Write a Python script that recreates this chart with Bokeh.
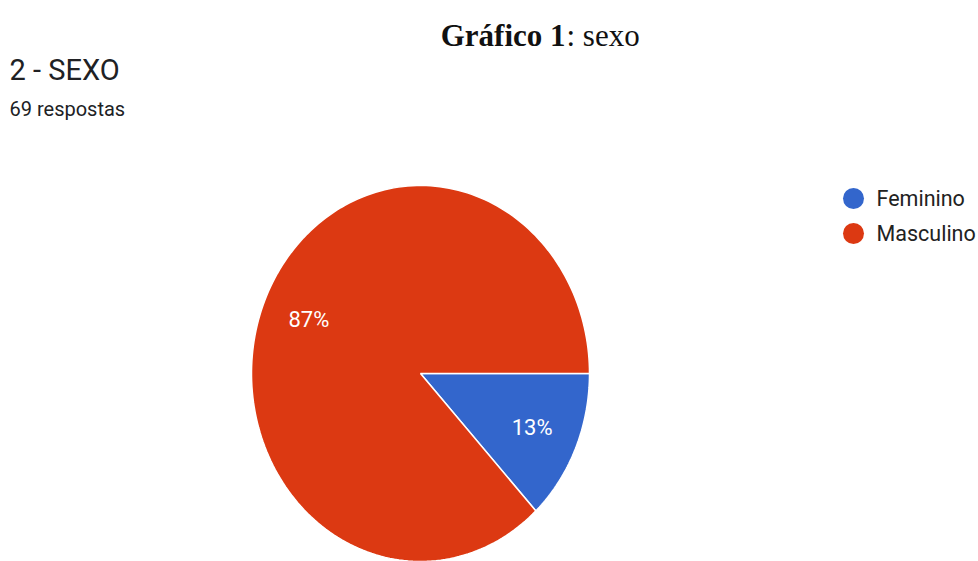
import numpy as np
from bokeh.plotting import figure
from bokeh.models import Range1d, ColumnDataSource
from bokeh.core.properties import value
from bokeh.embed import file_html
from bokeh.resources import INLINE

# ---- data ----
categories = ["Feminino", "Masculino"]
counts = [9, 60]
colors = ["#3366cc", "#dc3912"]
pct_labels = ["13%", "87%"]
title_bold = "Gráfico 1"
title_rest = ": sexo"
question = "2 - SEXO"
responses = "69 respostas"

W, H = 978, 561
p = figure(width=W, height=H, output_backend="svg", toolbar_location=None,
           x_range=Range1d(0, W), y_range=Range1d(H, 0), min_border=0)
p.axis.visible = False
p.grid.visible = False
p.outline_line_color = None
p.background_fill_color = "white"
p.border_fill_color = "white"

# pie geometry (ellipse as in reference)
cx, cy, rx, ry = 420, 373, 169, 188
vals = np.array(counts, dtype=float)
fr = vals / vals.sum()
ends = np.cumsum(fr) * 2 * np.pi
starts = ends - fr * 2 * np.pi

xs, ys, lx, ly = [], [], [], []
for a0, a1 in zip(starts, ends):
    t = np.linspace(a0, a1, 200)
    xs.append(list(np.concatenate([[cx], cx + rx * np.cos(t)])))
    ys.append(list(np.concatenate([[cy], cy + ry * np.sin(t)])))
    m = (a0 + a1) / 2
    lx.append(cx + 0.72 * rx * np.cos(m))
    ly.append(cy + 0.72 * ry * np.sin(m))

src = ColumnDataSource(dict(xs=xs, ys=ys, color=colors, lx=lx, ly=ly, lab=pct_labels))
p.patches("xs", "ys", source=src, fill_color="color", line_color="white", line_width=1.5)
p.text("lx", "ly", text="lab", source=src, text_color="#ffffff", text_font=value("Roboto"),
       text_font_size="22px", text_align="center", text_baseline="middle")

# titles
p.text([565], [35], text=[title_bold], text_font=value("Liberation Serif"), text_font_size="31px",
       text_font_style="bold", text_color="#111111", text_align="right", text_baseline="alphabetic")
p.text([566], [35], text=[title_rest], text_font=value("Liberation Serif"), text_font_size="31px",
       text_color="#111111", text_align="left", text_baseline="alphabetic")
p.text([9], [69], text=[question], text_font=value("Roboto"), text_font_size="29px",
       text_color="#202124", text_align="left", text_baseline="alphabetic")
p.text([9], [108], text=[responses], text_font=value("Roboto"), text_font_size="20px",
       text_color="#202124", text_align="left", text_baseline="alphabetic")

# legend
leg_y = [198, 233]
p.scatter([853] * 2, leg_y, size=21, color=colors, line_color=None)
p.text([876] * 2, leg_y, text=categories, text_font=value("Roboto"), text_font_size="21.5px",
       text_color="#222222", text_align="left", text_baseline="middle")

open("out.html", "w").write(file_html(p, INLINE))
